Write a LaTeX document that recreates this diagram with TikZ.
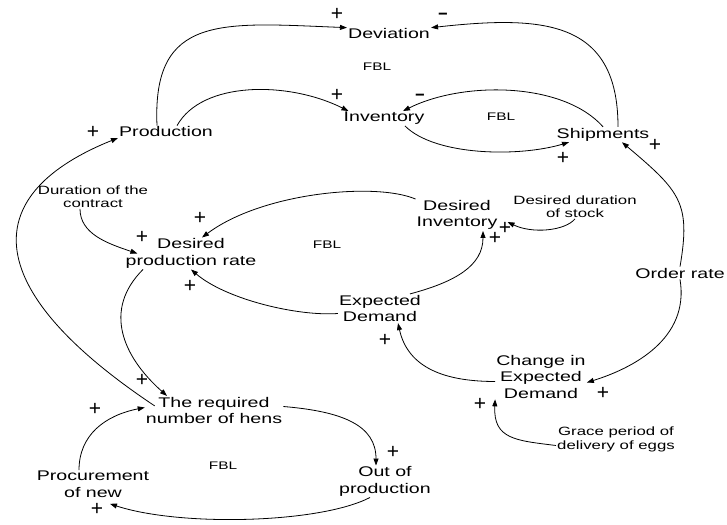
\documentclass[tikz,border=0pt]{standalone}
\usepackage{fontspec}
\newfontfamily\cldfont[FakeStretch=1.4]{Liberation Sans}
\newfontfamily\signfont{Liberation Sans}
\usetikzlibrary{arrows.meta}

\begin{document}
\begin{tikzpicture}[x=1pt, y=1pt]
      \tikzstyle{var}=[font=\cldfont\fontsize{14}{16.5}\selectfont, align=center, inner sep=1pt]
      \tikzstyle{aux}=[font=\cldfont\fontsize{12}{13.5}\selectfont, align=center, inner sep=1pt]
      \tikzstyle{loopname}=[font=\cldfont\fontsize{11}{13}\selectfont, inner sep=1pt]
      \tikzstyle{sign}=[font=\signfont\fontsize{21}{21}\selectfont, inner sep=0pt]
      \tikzstyle{negsign}=[font=\cldfont\fontsize{24}{24}\selectfont, inner sep=0pt]
      \tikzstyle{link}=[-{Triangle[length=7pt,width=5pt]}, line width=0.8pt]

      \useasboundingbox (0,0) rectangle (727,524);
      \fill[white] (0,0) rectangle (727,524);

      %variables
      \node[var] (dev) at (389,490) {Deviation};
      \node[var] (prod) at (166,392) {Production};
      \node[var] (inv) at (384,405.5) {Inventory};
      \node[var] (ship) at (603,389.5) {Shipments};
      \node[var] (dpr) at (191,270.5) {Desired\\production rate};
      \node[var] (dinv) at (457,309) {Desired\\Inventory};
      \node[var] (order) at (680,251) {Order rate};
      \node[var] (ed) at (380,215.5) {Expected\\Demand};
      \node[var] (ced) at (541,147.5) {Change in\\Expected\\Demand};
      \node[var] (hens) at (214,113.5) {The required\\number of hens};
      \node[var] (proc) at (93,39.5) {Procurement\\of new};
      \node[var] (outp) at (385,42.5) {Out of\\production};
      \node[aux] (dur) at (93,327.5) {Duration of the\\contract};
      \node[aux] (dds) at (575,317.5) {Desired duration\\of stock};
      \node[aux] (grace) at (616,84.5) {Grace period of\\delivery of eggs};

      %loop labels
      \node[loopname] (fblA) at (377,457) {FBL};
      \node[loopname] (fblB) at (501,407) {FBL};
      \node[loopname] (fblC) at (327,279) {FBL};
      \node[loopname] (fblD) at (223,58) {FBL};

      %links
      \draw[link] ([xshift=-9]prod.north) .. controls +(-5,112) and +(-125,5) .. (dev.north west);
      \draw[link] ([xshift=11]prod.north) .. controls +(25,45) and +(-60,30) .. ([xshift=6]inv.north west);
      \draw[link] ([xshift=15]ship.north) .. controls +(0,108) and +(110,12) .. (dev.north east);
      \draw[link] (ship.north) .. controls +(-40,45) and +(60,30) .. ([xshift=19]inv.north);
      \draw[link] ([xshift=21]inv.south) .. controls +(30,-30) and +(-50,-15) .. ([xshift=-34]ship.south);
      \draw[link] (order.north) .. controls +(11,64) and +(58,-49) .. ([xshift=19]ship.south);
      \draw[link] (order.south) .. controls +(10,-60) and +(45,14) .. ([yshift=-6]ced.east);
      \draw[link] ([yshift=-5]ced.west) .. controls +(-50,0) and +(10,-45) .. ([xshift=18]ed.south);
      \draw[link] ([yshift=-6]grace.west) .. controls +(-40,5) and +(-2,-40) .. (ced.south west);
      \draw[link] ([xshift=30]ed.north) .. controls +(45,12) and +(0,-35) .. ([xshift=26]dinv.south);
      \draw[link] (dds.south) .. controls +(-10,-12) and +(25,-12) .. ([xshift=9,yshift=-7]dinv.east);
      \draw[link] (dinv.north west) .. controls +(-40,17) and +(60,45) .. ([xshift=11]dpr.north);
      \draw[link] ([yshift=-5]ed.west) .. controls +(-40,-3) and +(35,-30) .. (dpr.south);
      \draw[link] ([xshift=-13]dur.south) .. controls +(0,-25) and +(-30,10) .. ([xshift=13]dpr.west);
      \draw[link] ([xshift=-48]dpr.south) .. controls +(-40,-40) and +(-45,40) .. ([xshift=-47]hens.north);
      \draw[link] ([xshift=10,yshift=-10]hens.north west) .. controls +(-180,120) and +(-137,-55) .. ([yshift=-6]prod.west);
      \draw[link] ([xshift=-14]proc.north) .. controls +(0,35) and +(-40,-8) .. ([yshift=3]hens.west);
      \draw[link] ([yshift=4]hens.east) .. controls +(60,-5) and +(0,40) .. ([xshift=-9]outp.north);
      \draw[link] ([xshift=-15]outp.south) .. controls +(-50,-26) and +(70,-23) .. ([xshift=17,yshift=-5]proc.south);

      %polarities
      \node[sign] (sA) at (337,510) {+};
      \node[negsign] (sB) at (443,507) {-};
      \node[sign] (sC) at (337,429) {+};
      \node[negsign] (sD) at (420,426) {-};
      \node[sign] (sE) at (563,366) {+};
      \node[sign] (sF) at (655,379) {+};
      \node[sign] (sG) at (93,392) {+};
      \node[sign] (sH) at (200,306) {+};
      \node[sign] (sI) at (142,287) {+};
      \node[sign] (sJ) at (190,238) {+};
      \node[sign] (sK) at (495,286) {+};
      \node[sign] (sL) at (505,296) {+};
      \node[sign] (sM) at (385,184) {+};
      \node[sign] (sN) at (603,131) {+};
      \node[sign] (sO) at (480,120) {+};
      \node[sign] (sP) at (142,144) {+};
      \node[sign] (sQ) at (95,115) {+};
      \node[sign] (sR) at (393,72) {+};
      \node[sign] (sS) at (97,15) {+};

\end{tikzpicture}
\end{document}
